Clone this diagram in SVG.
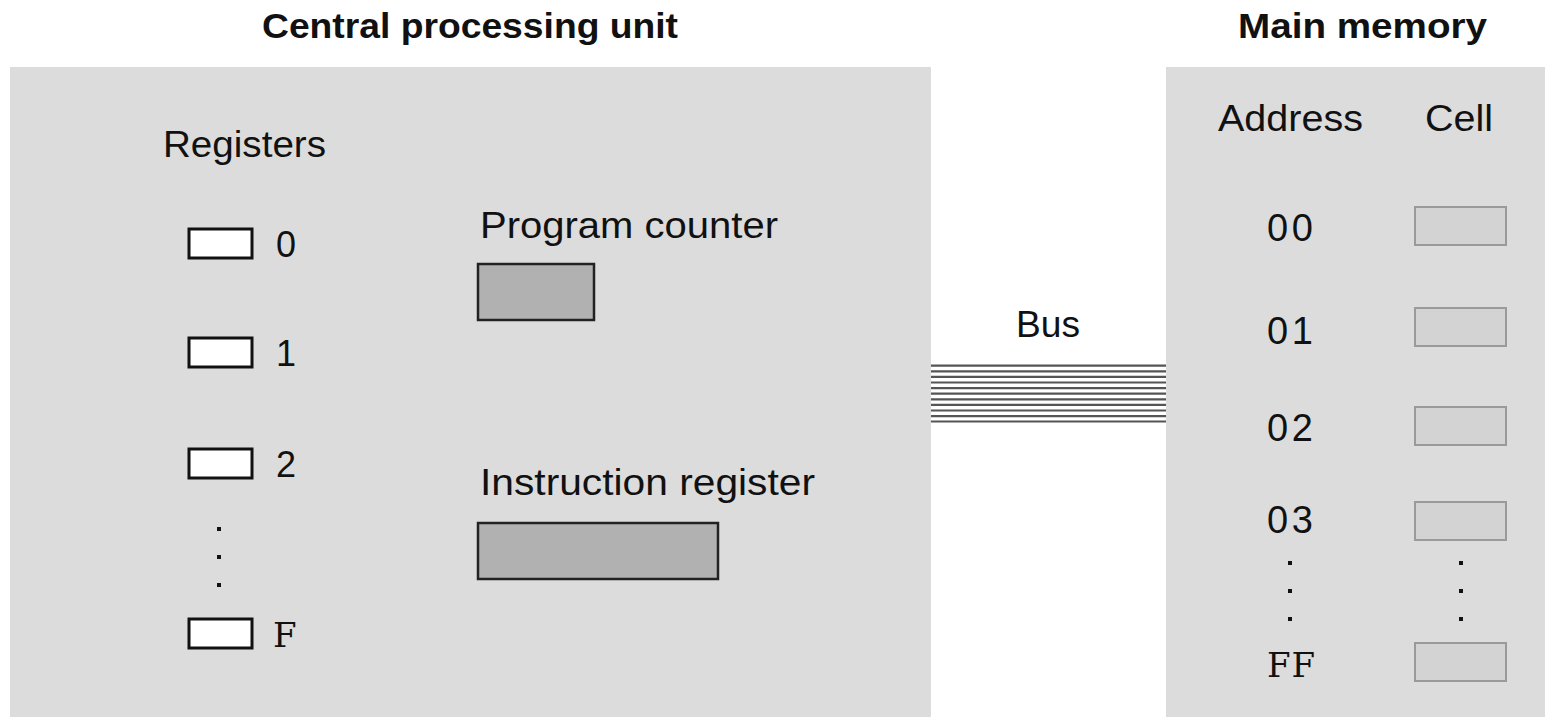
<svg xmlns="http://www.w3.org/2000/svg" width="1545" height="717" viewBox="0 0 1545 717">
<style>
.panel{fill:#dcdcdc}
.t{font-family:"Liberation Sans",Arial,sans-serif;font-size:36px;fill:#111}
.b{font-family:"Liberation Sans",Arial,sans-serif;font-size:35px;font-weight:bold;fill:#111}
.addr{font-family:"Liberation Sans",Arial,sans-serif;font-size:38px;fill:#111}
.ser{font-family:"DejaVu Serif","Liberation Serif",serif;font-size:34px;fill:#111}
.reg{fill:#fff;stroke:#111;stroke-width:3}
.dark{fill:#b1b1b1;stroke:#222;stroke-width:2.5}
.cell{fill:#d3d3d3;stroke:#9a9a9a;stroke-width:2}
.dot{fill:#111}
.bus line{stroke:#555;stroke-width:2.2}
</style>
<rect width="1545" height="717" fill="#fff"/>
<g id="cpu">
<rect class="panel" x="10" y="67" width="921" height="650"/>
<text class="b" x="262" y="38" textLength="416" lengthAdjust="spacingAndGlyphs">Central processing unit</text>
<text class="t" x="163" y="157" textLength="163" lengthAdjust="spacingAndGlyphs">Registers</text>
</g>
<g id="reg0"><rect class="reg" x="189" y="229" width="63" height="29"/><text class="t" x="276" y="257">0</text></g>
<g id="reg1"><rect class="reg" x="189" y="338" width="63" height="29"/><text class="t" x="276" y="366">1</text></g>
<g id="reg2"><rect class="reg" x="189" y="449" width="63" height="29"/><text class="t" x="276" y="477">2</text></g>
<g id="regdots"><rect class="dot" x="217" y="527" width="4" height="4"/><rect class="dot" x="217" y="555" width="4" height="4"/><rect class="dot" x="217" y="583" width="4" height="4"/></g>
<g id="regF"><rect class="reg" x="189" y="619" width="63" height="29"/><text class="ser" x="273" y="647">F</text></g>
<g id="pc"><text class="t" x="480" y="238" textLength="298" lengthAdjust="spacingAndGlyphs">Program counter</text><rect class="dark" x="478" y="264" width="116" height="56"/></g>
<g id="ir"><text class="t" x="480" y="495" textLength="335" lengthAdjust="spacingAndGlyphs">Instruction register</text><rect class="dark" x="478" y="523" width="240" height="56"/></g>
<g id="memory">
<rect class="panel" x="1166" y="67" width="379" height="650"/>
<text class="b" x="1238" y="38" textLength="249" lengthAdjust="spacingAndGlyphs">Main memory</text>
<text class="t" x="1218" y="131" textLength="145" lengthAdjust="spacingAndGlyphs">Address</text>
<text class="t" x="1425" y="131" textLength="68" lengthAdjust="spacingAndGlyphs">Cell</text>
</g>
<g id="m00"><text class="addr" x="1267" y="241" textLength="46" lengthAdjust="spacing">00</text><rect class="cell" x="1415" y="207" width="91" height="38"/></g>
<g id="m01"><text class="addr" x="1267" y="344" textLength="46" lengthAdjust="spacing">01</text><rect class="cell" x="1415" y="308" width="91" height="38"/></g>
<g id="m02"><text class="addr" x="1267" y="441" textLength="46" lengthAdjust="spacing">02</text><rect class="cell" x="1415" y="407" width="91" height="38"/></g>
<g id="m03"><text class="addr" x="1267" y="533" textLength="46" lengthAdjust="spacing">03</text><rect class="cell" x="1415" y="502" width="91" height="38"/></g>
<g id="memdots">
<rect class="dot" x="1288" y="561" width="4" height="4"/><rect class="dot" x="1288" y="589" width="4" height="4"/><rect class="dot" x="1288" y="617" width="4" height="4"/>
<rect class="dot" x="1459" y="561" width="4" height="4"/><rect class="dot" x="1459" y="589" width="4" height="4"/><rect class="dot" x="1459" y="617" width="4" height="4"/>
</g>
<g id="mFF"><text class="ser" x="1267" y="677" textLength="48" lengthAdjust="spacing">FF</text><rect class="cell" x="1415" y="643" width="91" height="38"/></g>
<g id="connectors">
<text class="t" x="1016" y="337" textLength="64" lengthAdjust="spacingAndGlyphs">Bus</text>
<g class="bus">
<line x1="931" y1="365.7" x2="1166" y2="365.7"/>
<line x1="931" y1="371.3" x2="1166" y2="371.3"/>
<line x1="931" y1="376.9" x2="1166" y2="376.9"/>
<line x1="931" y1="382.5" x2="1166" y2="382.5"/>
<line x1="931" y1="388.1" x2="1166" y2="388.1"/>
<line x1="931" y1="393.7" x2="1166" y2="393.7"/>
<line x1="931" y1="399.3" x2="1166" y2="399.3"/>
<line x1="931" y1="404.9" x2="1166" y2="404.9"/>
<line x1="931" y1="410.5" x2="1166" y2="410.5"/>
<line x1="931" y1="416.1" x2="1166" y2="416.1"/>
<line x1="931" y1="421.5" x2="1166" y2="421.5"/>
</g>
</g>
</svg>
